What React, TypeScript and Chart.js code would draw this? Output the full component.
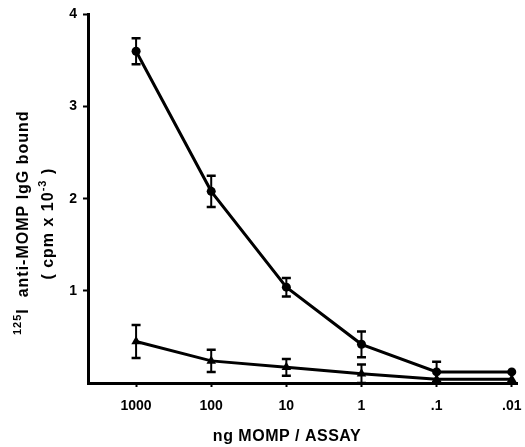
import React, { useEffect, useRef } from "react";
import { Chart, registerables } from "chart.js";

Chart.register(...registerables);

const doseLabels = ["1000", "100", "10", "1", ".1", ".01"];
const circleMeans = [3.6, 2.08, 1.04, 0.42, 0.12, 0.12];
const circleErr = [0.14, 0.17, 0.1, 0.14, 0.11, 0];
const triangleMeans = [0.45, 0.24, 0.17, 0.1, 0.04, 0.04];
const triangleErr = [0.18, 0.12, 0.09, 0.1, 0, 0];
const yTicks = [0, 1, 2, 3, 4];
const xTitle = "ng MOMP / ASSAY";
const yTitle1 = [
  { text: "125", sup: true },
  { text: "I  anti-MOMP IgG bound", sup: false },
];
const yTitle2 = [
  { text: "( cpm x 10", sup: false },
  { text: "-3", sup: true },
  { text: " )", sup: false },
];

const INK = "#000";
const FAMILY = '"Liberation Sans", Arial, sans-serif';

type Seg = { text: string; sup: boolean };

function drawRich(ctx: CanvasRenderingContext2D, segs: Seg[], size: number, spacing: number) {
  const supSize = Math.round(size * 0.68);
  ctx.letterSpacing = spacing + "px";
  let total = 0;
  const widths = segs.map((s) => {
    ctx.font = `bold ${s.sup ? supSize : size}px ${FAMILY}`;
    const w = ctx.measureText(s.text).width;
    total += w;
    return w;
  });
  let x = -total / 2;
  segs.forEach((s, i) => {
    ctx.font = `bold ${s.sup ? supSize : size}px ${FAMILY}`;
    ctx.fillText(s.text, x, s.sup ? -size * 0.45 : 0);
    x += widths[i];
  });
  ctx.letterSpacing = "0px";
}

const titlesPlugin = {
  id: "titles",
  afterDraw(chart: any) {
    const ctx = chart.ctx as CanvasRenderingContext2D;
    const area = chart.chartArea;
    ctx.save();
    ctx.fillStyle = INK;
    ctx.textBaseline = "alphabetic";
    ctx.textAlign = "left";
    // x title
    ctx.save();
    ctx.translate(287, 441);
    drawRich(ctx, [{ text: xTitle, sup: false }], 16, 0.5);
    ctx.restore();
    // y title line 1
    ctx.save();
    ctx.translate(28, (area.top + area.bottom) / 2 + 24);
    ctx.rotate(-Math.PI / 2);
    drawRich(ctx, yTitle1, 16, 1);
    ctx.restore();
    // y title line 2
    ctx.save();
    ctx.translate(53, (area.top + area.bottom) / 2 + 25);
    ctx.rotate(-Math.PI / 2);
    drawRich(ctx, yTitle2, 16, 1);
    ctx.restore();
    ctx.restore();
  },
};

const errorBarPlugin = {
  id: "errorBars",
  afterDatasetsDraw(chart: any) {
    const ctx = chart.ctx as CanvasRenderingContext2D;
    const xs = chart.scales.x;
    const ys = chart.scales.y;
    ctx.save();
    ctx.strokeStyle = INK;
    chart.data.datasets.forEach((ds: any) => {
      const errs: number[] = ds.errors || [];
      ds.data.forEach((p: any, i: number) => {
        const e = errs[i];
        if (!e) return;
        const x = xs.getPixelForValue(p.x);
        const yt = ys.getPixelForValue(p.y + e);
        const yb = ys.getPixelForValue(Math.max(0, p.y - e));
        ctx.lineWidth = 2;
        ctx.beginPath();
        ctx.moveTo(x, yt);
        ctx.lineTo(x, yb);
        ctx.stroke();
        ctx.lineWidth = 2.5;
        ctx.beginPath();
        ctx.moveTo(x - 4.5, yt);
        ctx.lineTo(x + 4.5, yt);
        ctx.moveTo(x - 4.5, yb);
        ctx.lineTo(x + 4.5, yb);
        ctx.stroke();
      });
    });
    ctx.restore();
  },
};

export default function App() {
  const ref = useRef<HTMLCanvasElement | null>(null);

  useEffect(() => {
    document.body.style.margin = "0";
    const canvas = ref.current;
    if (!canvas) return;
    const chart = new Chart(canvas, {
      type: "line",
      data: {
        datasets: [
          {
            label: "circles",
            data: circleMeans.map((y, i) => ({ x: i, y })),
            errors: circleErr,
            borderColor: INK,
            backgroundColor: INK,
            borderWidth: 3,
            pointStyle: "circle",
            pointRadius: 4.5,
            pointBorderWidth: 0,
            tension: 0,
          } as any,
          {
            label: "triangles",
            data: triangleMeans.map((y, i) => ({ x: i, y })),
            errors: triangleErr,
            borderColor: INK,
            backgroundColor: INK,
            borderWidth: 3,
            pointStyle: "triangle",
            pointRadius: 5.5,
            pointBorderWidth: 0,
            tension: 0,
          } as any,
        ],
      },
      options: {
        animation: false,
        responsive: true,
        maintainAspectRatio: false,
        layout: { padding: { top: 14, right: 8, bottom: 0, left: 0 } },
        plugins: {
          legend: { display: false },
          tooltip: { enabled: false },
        },
        scales: {
          x: {
            type: "linear",
            min: -0.64,
            max: 5.07,
            afterBuildTicks: (axis: any) => {
              axis.ticks = doseLabels.map((_, i) => ({ value: i }));
            },
            afterFit: (scale: any) => {
              scale.height = 64;
              scale.paddingLeft = 0;
              scale.paddingRight = 0;
            },
            ticks: {
              callback: (v: any) => doseLabels[v] ?? "",
              color: INK,
              padding: 11,
              maxRotation: 0,
              font: { family: FAMILY, size: 14, weight: "bold" },
            },
            grid: {
              drawOnChartArea: false,
              drawTicks: true,
              tickLength: 4,
              tickWidth: 2,
              tickColor: INK,
            },
            border: { display: true, color: INK, width: 3 },
          },
          y: {
            type: "linear",
            min: 0,
            max: 4,
            afterBuildTicks: (axis: any) => {
              axis.ticks = yTicks.map((v) => ({ value: v }));
            },
            afterFit: (scale: any) => {
              scale.width = 88;
            },
            ticks: {
              callback: (v: any) => (v === 0 ? "" : String(v)),
              color: INK,
              padding: 6,
              font: { family: FAMILY, size: 14, weight: "bold" },
            },
            grid: {
              drawOnChartArea: false,
              drawTicks: true,
              tickLength: 5,
              tickWidth: 2,
              tickColor: (c: any) => (c.tick && c.tick.value === 0 ? "rgba(0,0,0,0)" : INK),
            },
            border: { display: true, color: INK, width: 3 },
          },
        },
      } as any,
      plugins: [errorBarPlugin, titlesPlugin],
    });
    return () => chart.destroy();
  }, []);

  return (
    <div style={{ width: 525, height: 447, position: "relative", background: "#fff" }}>
      <canvas ref={ref} />
    </div>
  );
}
